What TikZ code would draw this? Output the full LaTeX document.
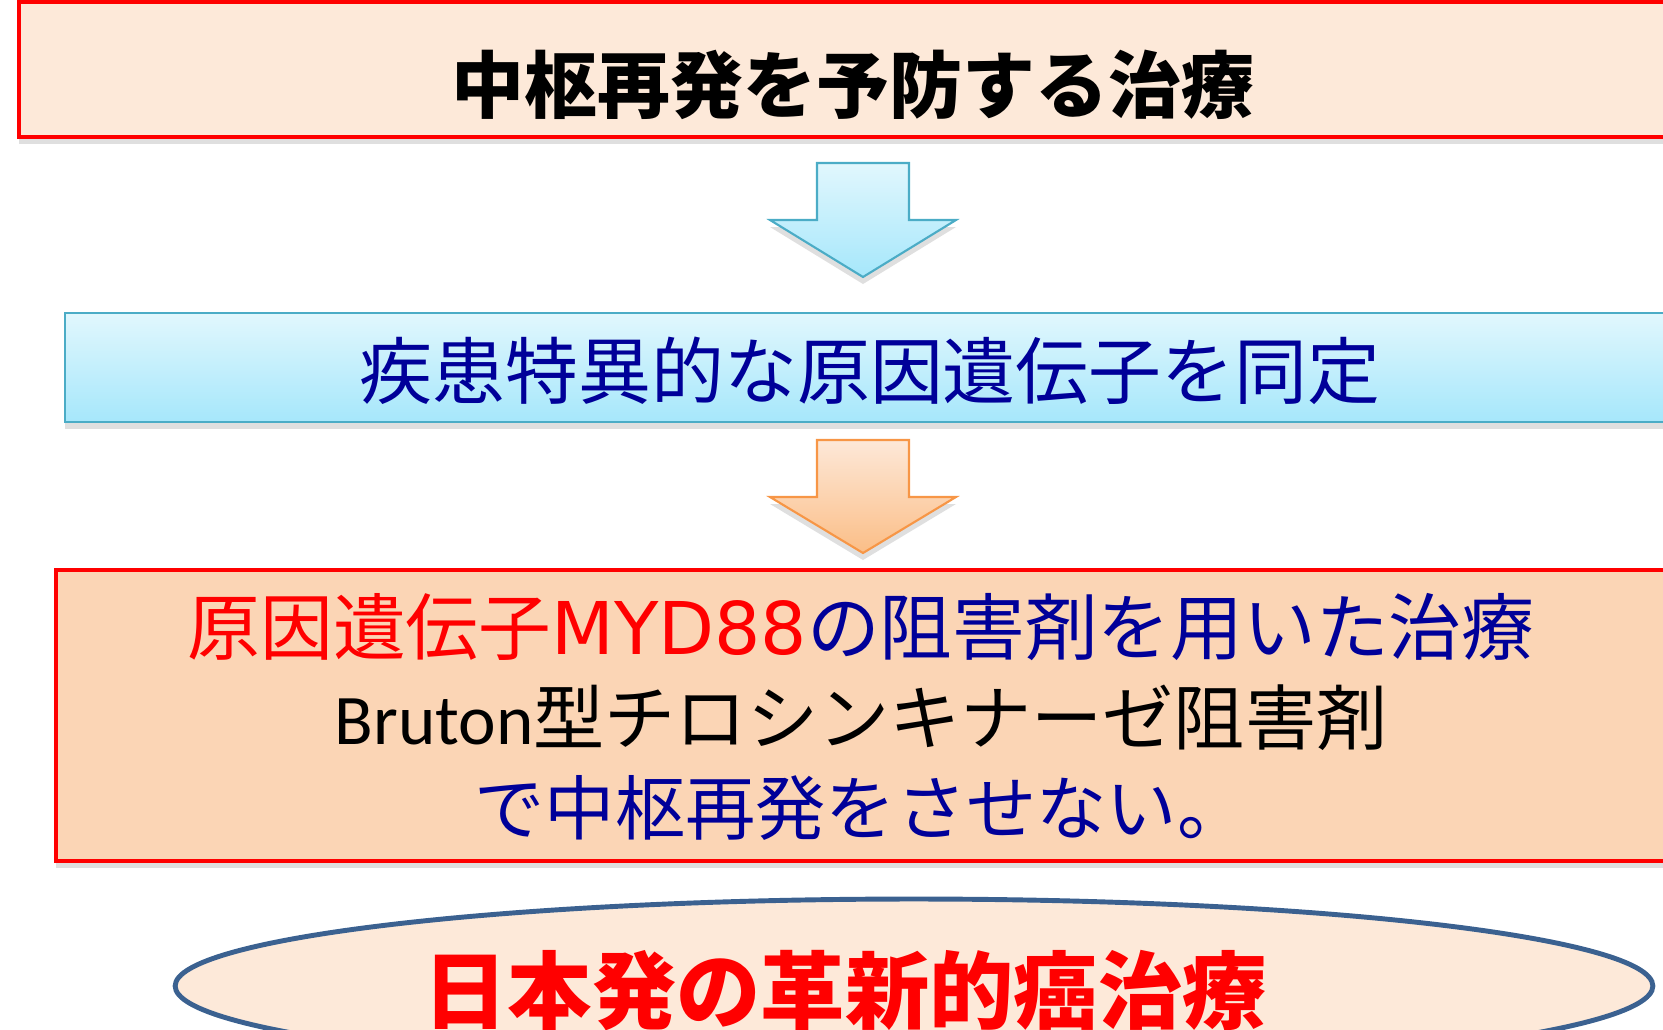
\documentclass[tikz,border=0pt]{standalone}
\usepackage{fontspec}
\usepackage{tikz}
\usepackage{xcolor}
\usetikzlibrary{shapes.geometric,shadows}
\setmainfont{Carlito}
\newfontfamily\jpfont{Noto Sans CJK JP}
\newfontfamily\widefont{DejaVu Sans}
\definecolor{boxred}{HTML}{FF0000}
\definecolor{textnavy}{HTML}{000099}
\definecolor{paleorange}{HTML}{FDE9D9}
\definecolor{peach}{HTML}{FBD5B5}
\definecolor{skytop}{HTML}{E1F7FD}
\definecolor{skybot}{HTML}{A6E7FB}
\definecolor{skyline}{HTML}{4BACC6}
\definecolor{orangetop}{HTML}{FDE8D8}
\definecolor{orangebot}{HTML}{FBBE87}
\definecolor{orangeline}{HTML}{F79646}
\definecolor{ovalline}{HTML}{3B6190}

\begin{document}
\begin{tikzpicture}[x=0.02cm,y=-0.02cm,
    shade/.style={drop shadow={shadow xshift=0pt,shadow yshift=-4pt,opacity=0.25}},
    base/.style={rectangle,inner sep=0pt,shade},
    redbox/.style={base,draw=boxred,line width=2.6pt},
    bluebox/.style={base,draw=skyline,line width=1.2pt,top color=skytop,bottom color=skybot},
    bluearrow/.style={shade,draw=skyline,line width=1.2pt,top color=skytop,bottom color=skybot},
    orangearrow/.style={shade,draw=orangeline,line width=1.2pt,top color=orangetop,bottom color=orangebot},
    txt/.style={inner sep=0pt,align=center}]

    \useasboundingbox (0,0) rectangle (1663,1030);
    \clip (0,0) rectangle (1663,1030);

    % boxes
    \node[redbox, fill=paleorange, minimum width=33.62cm, minimum height=2.7cm] (top) at (859.5,69.5) {};
    \node[bluebox, minimum width=32.7cm, minimum height=2.18cm] (gene) at (882.5,367.5) {};
    \node[redbox, fill=peach, minimum width=32.88cm, minimum height=5.82cm] (drug) at (878,715.5) {};
    \node[ellipse, draw=ovalline, line width=2.8pt, fill=paleorange, inner sep=0pt,
          minimum width=29.56cm, minimum height=3.48cm] (goal) at (914,986) {};

    % block arrows
    \coordinate (a1) at (863,163);
    \coordinate (a2) at (863,440);
    \path[bluearrow] (a1) +(-46,0) -- +(46,0) -- +(46,57) -- +(93,57) -- +(0,114)
        -- +(-93,57) -- +(-46,57) -- cycle;
    \path[orangearrow] (a2) +(-46,0) -- +(46,0) -- +(46,57) -- +(93,57) -- +(0,113)
        -- +(-93,57) -- +(-46,57) -- cycle;

    % texts
    \node[txt, font=\jpfont\bfseries\fontsize{41.5pt}{50pt}\selectfont] (toptxt) at (853,85)
    {中枢再発を予防する治療};
    \node[txt, text=textnavy, font=\jpfont\fontsize{41.5pt}{50pt}\selectfont] (genetxt) at (870,371)
    {疾患特異的な原因遺伝子を同定};
    \node[txt, font=\jpfont\fontsize{40pt}{51pt}\selectfont] (drugtxt) at (861,717)
    {{\fontsize{41.4pt}{51pt}\selectfont\textcolor{boxred}{原因遺伝子{\widefont MYD88}}\textcolor{textnavy}{の阻害剤を用いた治療}}\\
     {\fontsize{40.5pt}{51pt}\selectfont{\rmfamily Bruton}型チロシンキナーゼ阻害剤}\\
     \textcolor{textnavy}{で中枢再発をさせない。}};
    \node[txt, text=boxred, font=\jpfont\bfseries\fontsize{48pt}{54pt}\selectfont] (goaltxt) at (845,991)
    {日本発の革新的癌治療};
\end{tikzpicture}
\end{document}
